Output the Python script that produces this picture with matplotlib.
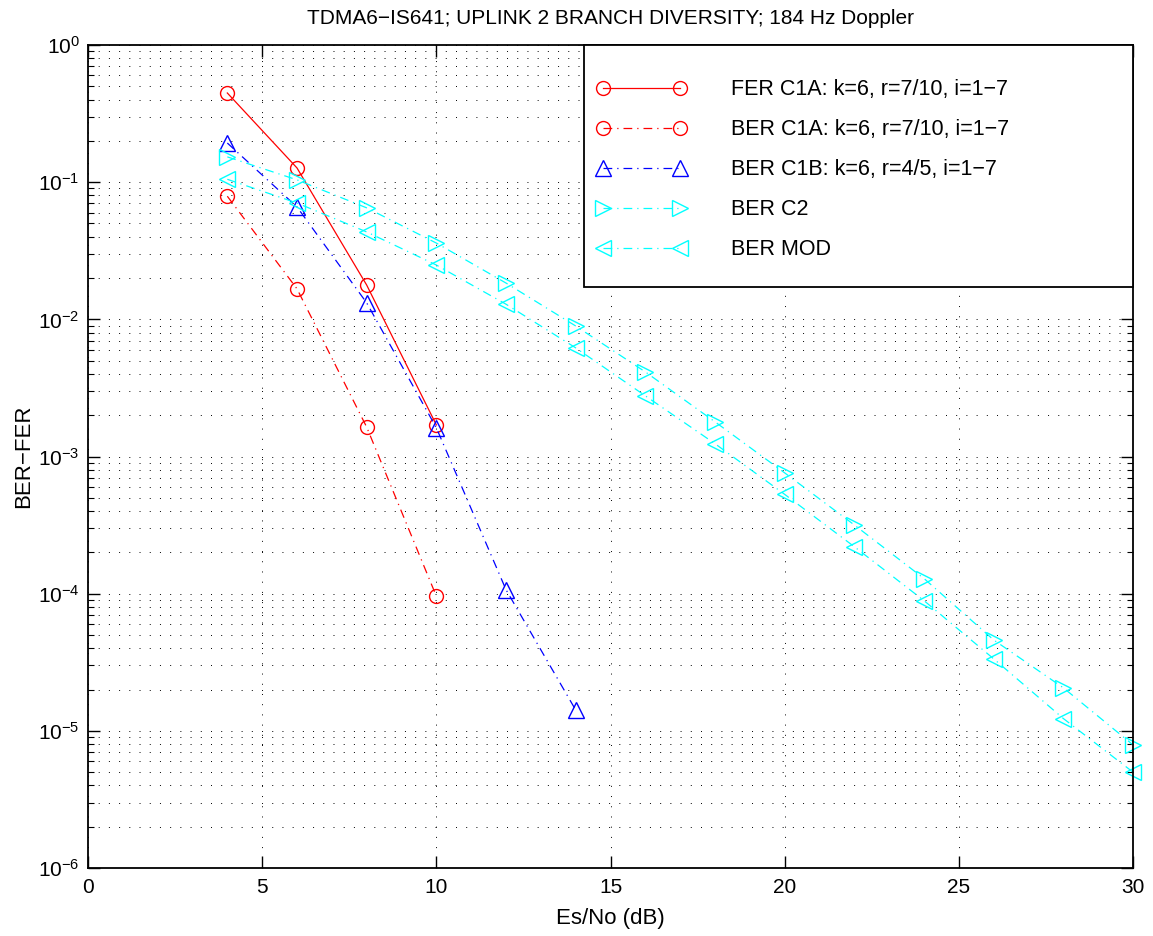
import matplotlib
matplotlib.use("Agg")
import matplotlib.pyplot as plt
from matplotlib.ticker import LogLocator, FixedLocator, NullFormatter
from matplotlib.patches import Rectangle

plt.rcParams['font.family'] = ['Liberation Sans', 'DejaVu Sans']

x_c1 = [4, 6, 8, 10]
fer_c1a = [0.447, 0.127, 0.0178, 0.0017]
ber_c1a = [0.079, 0.0167, 0.00164, 9.6e-5]
x_c1b = [4, 6, 8, 10, 12, 14]
ber_c1b = [0.193, 0.066, 0.0132, 0.00162, 1.07e-4, 1.42e-5]
x_full = [4, 6, 8, 10, 12, 14, 16, 18, 20, 22, 24, 26, 28, 30]
ber_c2 = [0.153, 0.104, 0.065, 0.036, 0.0184, 0.00895, 0.00414, 0.00179,
          7.6e-4, 3.17e-4, 1.29e-4, 4.6e-5, 2.06e-5, 7.9e-6]
ber_mod = [0.105, 0.0705, 0.0434, 0.0249, 0.0129, 0.0062, 0.00277, 0.00124,
           5.3e-4, 2.2e-4, 8.9e-5, 3.35e-5, 1.23e-5, 5.0e-6]

labels = ["FER C1A: k=6, r=7/10, i=1\u22127",
          "BER C1A: k=6, r=7/10, i=1\u22127",
          "BER C1B: k=6, r=4/5, i=1\u22127",
          "BER C2",
          "BER MOD"]
title = "TDMA6\u2212IS641; UPLINK 2 BRANCH DIVERSITY; 184 Hz Doppler"

fig = plt.figure(figsize=(11.53, 9.36), dpi=100)
ax = fig.add_axes([0.0763, 0.0726, 0.9064, 0.8793])

dashdot = (0, (7, 4, 1, 4))
common = dict(markerfacecolor='none', markeredgewidth=1.0, linewidth=0.9, clip_on=False)
ax.semilogy(x_c1, fer_c1a, color='red', linestyle='-', marker='o', markersize=10,
            label=labels[0], **common)
ax.semilogy(x_c1, ber_c1a, color='red', linestyle=dashdot, marker='o', markersize=10,
            label=labels[1], **common)
ax.semilogy(x_c1b, ber_c1b, color='blue', linestyle=dashdot, marker='^', markersize=11,
            label=labels[2], **common)
ax.semilogy(x_full, ber_c2, color='cyan', linestyle=dashdot, marker='>', markersize=11,
            label=labels[3], **common)
ax.semilogy(x_full, ber_mod, color='cyan', linestyle=dashdot, marker='<', markersize=11,
            label=labels[4], **common)

ax.set_xlim(0, 30)
ax.set_ylim(1e-6, 1)
ax.xaxis.set_major_locator(FixedLocator([0, 5, 10, 15, 20, 25, 30]))
ax.yaxis.set_major_locator(LogLocator(base=10, numticks=10))
ax.yaxis.set_minor_locator(LogLocator(base=10, subs=range(2, 10), numticks=20))
ax.yaxis.set_minor_formatter(NullFormatter())

gridstyle = dict(color='black', linestyle=(0, (1, 9.5)), linewidth=0.7)
ax.grid(True, which='major', axis='both', **gridstyle)
ax.grid(True, which='minor', axis='y', **gridstyle)
ax.set_axisbelow(True)

ax.tick_params(which='both', direction='in', top=True, right=True, labelsize=15)
ax.tick_params(which='major', length=8.5, width=1)
ax.tick_params(which='minor', length=4.3, width=0.8)
ax.tick_params(axis='x', pad=7)
ax.tick_params(axis='y', pad=6)
for s in ax.spines.values():
    s.set_linewidth(1.3)

ax.set_xlabel("Es/No (dB)", fontsize=16, labelpad=8)
ax.set_ylabel("BER\u2212FER", fontsize=16, labelpad=3)
ax.set_title(title, fontsize=15, pad=15)

# legend frame
frame = Rectangle((0.4746, 0.706), 1 - 0.4746, 1 - 0.706, transform=ax.transAxes,
                  facecolor='white', edgecolor='black', linewidth=1.3, zorder=4.5,
                  clip_on=False)
ax.add_patch(frame)
leg = ax.legend(loc='upper left', bbox_to_anchor=(0.4746, 0.974), fontsize=15.5,
                numpoints=2, handlelength=4.15, handletextpad=2.1, borderpad=0.6,
                labelspacing=0.88, frameon=False, borderaxespad=0)
leg.set_zorder(5)

fig.savefig("out.png", dpi=100)
